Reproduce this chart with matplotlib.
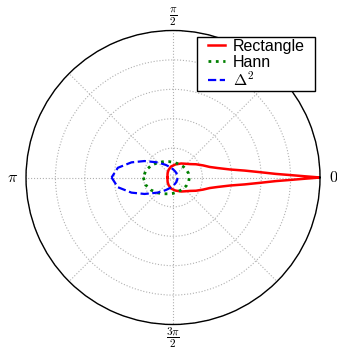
import numpy as np
import matplotlib
matplotlib.use('Agg')
import matplotlib.pyplot as plt
from matplotlib.path import Path

plt.rcParams['mathtext.fontset'] = 'cm'
plt.rcParams['font.family'] = ['Liberation Sans', 'DejaVu Sans']

# angles in degrees, radius relative to outer circle
rect_theta = [-180, -160, -140, -120, -100, -80, -60, -48, -38, -30, -22, -16, -12, -8, -5.5, -3.5, -2.0, -1.2, -0.6, -0.3,
              0, 0.3, 0.6, 1.2, 2.0, 3.5, 5.5, 8, 12, 16, 22, 30, 38, 48, 60, 80, 100, 120, 140, 160, 180]
rect_r = [0.037, 0.040, 0.048, 0.060, 0.076, 0.090, 0.110, 0.126, 0.148, 0.180, 0.220, 0.260, 0.310, 0.392, 0.490, 0.593, 0.700, 0.796, 0.885, 0.940,
          1.0, 0.940, 0.885, 0.796, 0.700, 0.593, 0.490, 0.392, 0.310, 0.260, 0.220, 0.180, 0.148, 0.126, 0.110, 0.090, 0.076, 0.060, 0.048, 0.040, 0.037]

hann_theta = [-180, -165, -150, -135, -120, -105, -90, -75, -60, -45, -30, -15,
              0, 15, 30, 45, 60, 75, 90, 105, 120, 135, 150, 165, 180]
hann_r = [0.202, 0.193, 0.172, 0.148, 0.128, 0.115, 0.108, 0.103, 0.101, 0.104, 0.107, 0.110,
          0.111, 0.109, 0.105, 0.102, 0.100, 0.100, 0.104, 0.112, 0.125, 0.144, 0.168, 0.191, 0.202]

delta_theta = [-180, -170, -160, -150, -135, -120, -105, -90, -75, -60, -30,
               0, 30, 60, 75, 90, 105, 120, 135, 150, 160, 170, 180]
delta_r = [0.418, 0.381, 0.301, 0.224, 0.145, 0.099, 0.073, 0.056, 0.046, 0.040, 0.033,
           0.031, 0.033, 0.040, 0.046, 0.056, 0.073, 0.099, 0.145, 0.224, 0.301, 0.381, 0.418]

grid_angles = [0, 45, 90, 135, 180, 225, 270, 315]
angle_labels = {0: r'$0$', 90: r'$\frac{\pi}{2}$', 180: r'$\pi$', 270: r'$\frac{3\pi}{2}$'}


def wide_box(x0, y0, width, height, mutation_size):
    # legend frame with extra room left and right only
    dx = 8
    return Path([(x0 - dx, y0), (x0 + width + dx, y0), (x0 + width + dx, y0 + height),
                 (x0 - dx, y0 + height), (x0 - dx, y0)], closed=True)


fig = plt.figure(figsize=(3.37, 3.49), dpi=100)
ax = fig.add_axes([0.0772, 0.0702, 0.8724, 0.8424], projection='polar')

ax.plot(np.radians(rect_theta), rect_r, color='red', lw=1.8, label='Rectangle')
ax.plot(np.radians(hann_theta), hann_r, color='green', lw=2, ls=':', label='Hann')
ax.plot(np.radians(delta_theta), delta_r, color='blue', lw=1.6, ls='--', label=r'$\Delta^2$')

ax.set_ylim(0, 1)
ax.set_yticks([0.2, 0.4, 0.6, 0.8, 1.0])
ax.set_yticklabels([])
ax.set_thetagrids(grid_angles, [''] * len(grid_angles))
# old-style angle labels sitting just outside the circle
for ang, txt in angle_labels.items():
    ax.text(np.radians(ang), 1.09, txt, ha='center', va='center', fontsize=11.5, clip_on=False)
ax.grid(True, color='#b0b0b0', ls=':', lw=0.8)
ax.spines['polar'].set_linewidth(1.0)

leg = ax.legend(loc='upper right', bbox_to_anchor=(0.911, 0.8954), bbox_transform=fig.transFigure,
                borderaxespad=0, fancybox=False, framealpha=1, edgecolor='black',
                fontsize=11.5, handlelength=1.1, handletextpad=0.45, labelspacing=0.05,
                borderpad=0.15)
leg.get_frame().set_linewidth(1.0)
leg.get_frame().set_boxstyle(wide_box)

fig.savefig('out.png', dpi=100)
